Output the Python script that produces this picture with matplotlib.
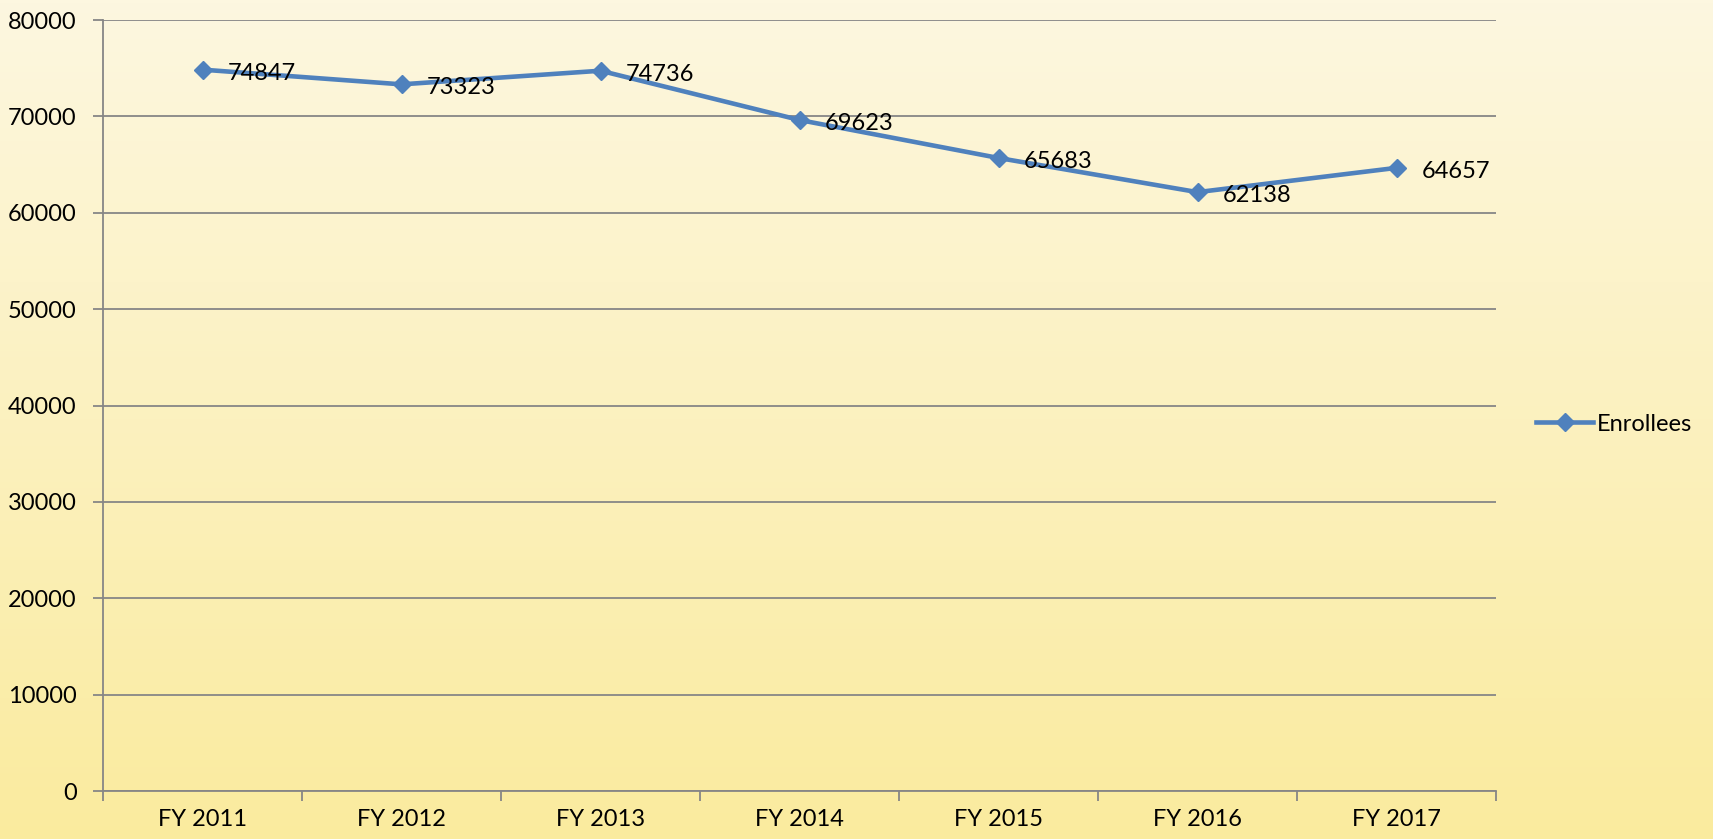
import matplotlib
matplotlib.use("Agg")
import matplotlib.pyplot as plt
import numpy as np
from matplotlib.lines import Line2D

categories = ["FY 2011", "FY 2012", "FY 2013", "FY 2014", "FY 2015", "FY 2016", "FY 2017"]
enrollees = [74847, 73323, 74736, 69623, 65683, 62138, 64657]
yticks = [0, 10000, 20000, 30000, 40000, 50000, 60000, 70000, 80000]

plt.rcParams['font.family'] = ['Lato', 'DejaVu Sans']

W, H = 1713, 839
fig = plt.figure(figsize=(W / 100, H / 100), dpi=100)

# gradient background
bg = fig.add_axes([0, 0, 1, 1], zorder=-10)
top = np.array([253, 247, 224]) / 255.0
bot = np.array([250, 235, 158]) / 255.0
t = np.linspace(0, 1, 256)[:, None]
grad = top[None, :] * (1 - t) + bot[None, :] * t
img = np.repeat(grad[:, None, :], 2, axis=1)
bg.imshow(img, aspect='auto', extent=[0, 1, 0, 1])
bg.axis('off')

left, right, topy, boty = 103, 1496, 20, 791
ax = fig.add_axes([left / W, 1 - boty / H, (right - left) / W, (boty - topy) / H])
ax.patch.set_alpha(0)

x = np.arange(len(categories))
color = '#4F81BD'
ax.plot(x, enrollees, color=color, lw=3.3, marker='D', markersize=9.5,
        markeredgecolor=color, markerfacecolor=color, solid_capstyle='round', zorder=3)

for xi, v in zip(x, enrollees):
    ax.annotate(str(v), (xi, v), xytext=(18, -2.5), textcoords='offset points',
                ha='left', va='center', fontsize=17, color='black', zorder=4)

ax.set_xlim(-0.5, len(categories) - 0.5)
ax.set_ylim(0, 80000)
ax.set_yticks(yticks)
ax.set_yticklabels([str(v) for v in yticks], fontsize=17)
ax.set_xticks(x)
ax.set_xticklabels(categories, fontsize=17)
ax.set_xticks(np.arange(len(categories) + 1) - 0.5, minor=True)

gray = '#868686'
ax.grid(axis='y', color=gray, lw=1.3)
ax.set_axisbelow(True)
for s in ['top', 'right']:
    ax.spines[s].set_visible(False)
for s in ['left', 'bottom']:
    ax.spines[s].set_color(gray)
    ax.spines[s].set_linewidth(1.3)
ax.tick_params(axis='y', length=7, width=1.3, color=gray, pad=12)
ax.tick_params(axis='x', which='major', length=0, pad=13)
ax.tick_params(axis='x', which='minor', length=7, width=1.3, color=gray)

handle = Line2D([], [], color=color, lw=3.3, marker='D', markersize=9.5,
                markerfacecolor=color, markeredgecolor=color)
fig.legend([handle], ['Enrollees'], loc='center left',
           bbox_to_anchor=(1527 / W, 1 - 424 / H), frameon=False, fontsize=17,
           handlelength=2.4, handletextpad=0.15, borderaxespad=0)

fig.savefig('out.png', dpi=100)
